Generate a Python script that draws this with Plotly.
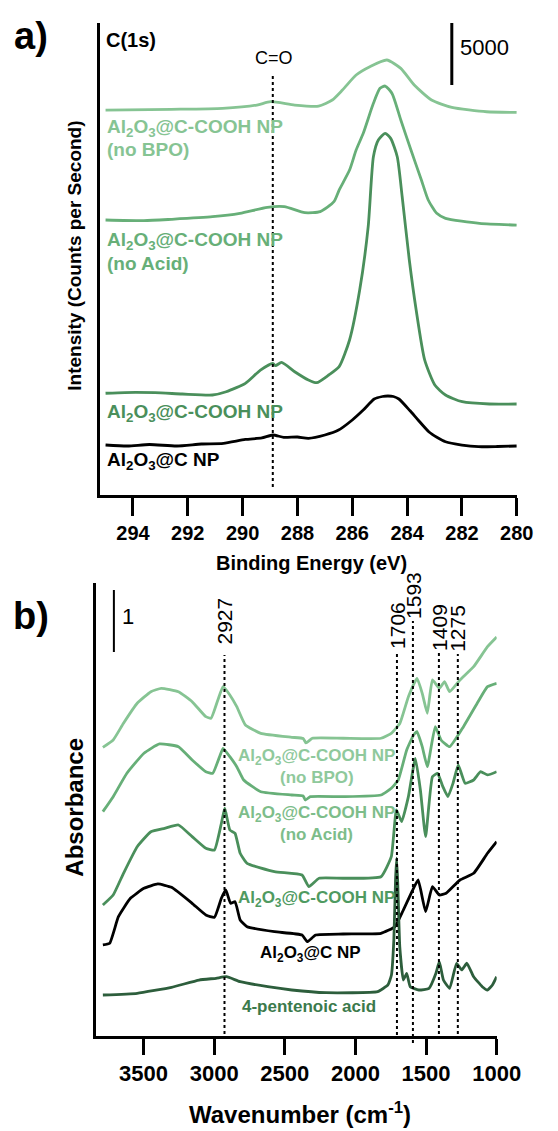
import plotly.graph_objects as go

W, H = 558, 1131

# ---------------- Panel a: XPS C(1s) ----------------
xps_ev_c = [295.0, 294.2, 293.4, 292.4, 291.5, 290.7, 289.9, 289.3, 288.9, 288.5, 288.0, 287.6, 287.0,
            286.5, 286.0, 285.6, 285.2, 284.9, 284.7, 284.5, 284.3, 283.9, 283.6, 283.2, 282.9, 282.6,
            282.0, 281.4, 280.7, 280.0]
xps_cnt_c = [4025, 3945, 4065, 3945, 4105, 4160, 4470, 4590, 4830, 4645, 4670, 4565, 4830,
             5230, 6040, 6840, 7730, 7930, 7970, 7930, 7730, 6800, 6040, 5070, 4630, 4290,
             4025, 3890, 3905, 3945]

xps_ev_cooh = [295.0, 294.3, 293.2, 292.2, 291.1, 290.6, 289.9, 289.35, 288.9, 288.8, 288.58, 288.1, 287.6,
               287.3, 286.86, 286.48, 286.1, 285.73, 285.42, 285.23, 285.05, 284.8, 284.6, 284.36, 284.18,
               283.92, 283.67, 283.36, 282.99, 282.6, 281.99, 281.0, 280.0]
xps_cnt_cooh = [8190, 8250, 8235, 8130, 8050, 8315, 8990, 10060, 10600, 10410, 10680, 9925, 9260,
                9040, 9660, 10330, 12480, 16500, 21600, 27230, 28580, 29120, 28710, 27230, 24010,
                18920, 14890, 10870, 8855, 8050, 7510, 7325, 7325]

xps_ev_noacid = [295.0, 293.6, 292.6, 291.1, 290.1, 289.1, 288.48, 287.73, 287.17, 286.67, 286.48, 286.1,
                 285.86, 285.6, 285.23, 284.99, 284.8, 284.55, 284.23, 283.86, 283.48, 283.23, 282.92,
                 282.6, 281.36, 280.0]
xps_cnt_noacid = [22140, 22085, 22195, 22405, 22675, 23160, 23210, 22725, 22810, 23610, 24550, 26160,
                  27770, 29120, 31530, 32740, 32925, 32330, 30190, 27770, 25360, 23750, 22675,
                  22275, 21870, 21735]

xps_ev_nobpo = [295.0, 292.6, 290.73, 289.48, 288.98, 288.1, 287.23, 286.73, 286.36, 285.86, 285.36,
                284.74, 284.23, 283.74, 283.11, 282.37, 281.1, 280.0]
xps_cnt_nobpo = [30990, 31050, 31130, 31395, 31665, 31395, 31315, 31800, 32600, 33810, 34480,
                 35020, 34345, 33005, 31800, 31210, 30855, 30805]

xps_ticks = [294, 292, 290, 288, 286, 284, 282, 280]
co_line_ev = 288.9
xps_scale_counts = 5000

# ---------------- Panel b: FTIR ----------------
ir_wn_nobpo = [3788, 3715, 3642, 3545, 3448, 3375, 3253, 3156, 3059, 3022, 2974, 2937, 2889, 2840, 2779,
               2670, 2451, 2370, 2350, 2305, 2087, 1819, 1746, 1685, 1625, 1564, 1527, 1491, 1455, 1406,
               1369, 1333, 1260, 1163, 1065, 1000]
ir_abs_nobpo = [4.656, 4.774, 5.044, 5.366, 5.553, 5.608, 5.553, 5.392, 5.150, 5.124, 5.419, 5.634, 5.500,
                5.311, 5.016, 4.882, 4.818, 4.798, 4.726, 4.802, 4.802, 4.802, 4.882, 5.044, 5.473, 5.769,
                5.527, 5.205, 5.742, 5.608, 5.715, 5.553, 5.742, 5.956, 6.279, 6.435]

ir_wn_noacid = [3788, 3715, 3618, 3497, 3387, 3253, 3156, 3059, 3010, 2962, 2937, 2889, 2840, 2791, 2670,
                2451, 2370, 2354, 2320, 2087, 1819, 1746, 1697, 1637, 1588, 1564, 1527, 1491, 1435, 1394,
                1333, 1235, 1138, 1065, 1000]
ir_abs_noacid = [3.618, 3.860, 4.237, 4.560, 4.710, 4.666, 4.452, 4.263, 4.237, 4.505, 4.640, 4.505, 4.344,
                 4.129, 3.940, 3.887, 3.871, 3.806, 3.860, 3.860, 3.887, 3.995, 4.129, 4.613, 4.855, 4.908,
                 4.666, 4.344, 4.989, 4.774, 4.666, 4.989, 5.366, 5.634, 5.689]

ir_wn_cooh = [3788, 3715, 3642, 3545, 3448, 3351, 3253, 3156, 3059, 2998, 2949, 2925, 2889, 2852, 2816,
              2767, 2573, 2378, 2330, 2257, 2087, 1819, 1746, 1710, 1673, 1625, 1576, 1540, 1503, 1455,
              1418, 1381, 1345, 1309, 1272, 1223, 1163, 1114, 1065, 1000]
ir_abs_cooh = [2.113, 2.274, 2.624, 3.053, 3.295, 3.350, 3.403, 3.215, 3.027, 3.000, 3.431, 3.673, 3.323,
               3.269, 2.947, 2.785, 2.650, 2.597, 2.408, 2.544, 2.544, 2.569, 2.892, 3.645, 3.456, 3.860,
               4.479, 3.968, 3.215, 4.182, 4.237, 4.021, 3.860, 4.076, 4.371, 4.076, 4.129, 4.263, 4.210,
               4.263]

ir_wn_c = [3788, 3740, 3678, 3593, 3497, 3399, 3302, 3156, 3059, 2998, 2949, 2918, 2884, 2852, 2816, 2767,
           2573, 2378, 2341, 2281, 2087, 1819, 1721, 1661, 1600, 1556, 1503, 1455, 1406, 1358, 1260, 1163,
           1065, 1000]
ir_abs_c = [1.468, 1.495, 1.924, 2.221, 2.382, 2.452, 2.398, 2.140, 1.952, 1.915, 2.221, 2.355, 2.140, 2.166,
            1.871, 1.763, 1.682, 1.629, 1.521, 1.629, 1.645, 1.656, 1.763, 2.032, 2.327, 2.516, 2.005, 2.408,
            2.274, 2.302, 2.516, 2.624, 2.947, 3.134]

ir_wn_pent = [3788, 3545, 3302, 3107, 2986, 2913, 2816, 2621, 2451, 2208, 1843, 1770, 1745, 1728, 1716, 1708,
              1700, 1686, 1661, 1637, 1612, 1551, 1479, 1430, 1406, 1377, 1333, 1284, 1248, 1211, 1163, 1102,
              1065, 1030, 1000]
ir_abs_pent = [0.661, 0.689, 0.785, 0.903, 0.931, 0.956, 0.876, 0.795, 0.742, 0.698, 0.715, 0.823, 0.984,
               1.55, 2.52, 2.87, 2.44, 1.44, 0.903, 1.011, 0.795, 0.742, 0.769, 1.011, 1.198, 0.903, 0.769,
               1.173, 1.065, 1.173, 0.956, 0.795, 0.742, 0.823, 0.956]

ir_ticks = [3500, 3000, 2500, 2000, 1500, 1000]
ir_peaks = [2927, 1706, 1593, 1409, 1275]
ir_scale_abs = 1

# ---------------- colours ----------------
C_NOBPO = "#86c493"
C_NOACID = "#67af78"
C_COOH = "#4a8f5b"
C_PENT = "#2d5e3c"

FONT = "Liberation Sans"


def px(x):
    return x / W


def py(y):
    return 1 - y / H


fig = go.Figure()

LW = 2.8
for xs, ys, col in [(xps_ev_nobpo, xps_cnt_nobpo, C_NOBPO), (xps_ev_noacid, xps_cnt_noacid, C_NOACID),
                    (xps_ev_cooh, xps_cnt_cooh, C_COOH), (xps_ev_c, xps_cnt_c, "#000000")]:
    fig.add_trace(go.Scatter(x=xs, y=ys, mode="lines",
                             line=dict(color=col, width=LW, shape="spline", smoothing=0.6),
                             xaxis="x", yaxis="y", showlegend=False, hoverinfo="skip"))

for xs, ys, col in [(ir_wn_nobpo, ir_abs_nobpo, C_NOBPO), (ir_wn_noacid, ir_abs_noacid, C_NOACID),
                    (ir_wn_cooh, ir_abs_cooh, C_COOH), (ir_wn_c, ir_abs_c, "#000000"),
                    (ir_wn_pent, ir_abs_pent, C_PENT)]:
    fig.add_trace(go.Scatter(x=xs, y=ys, mode="lines",
                             line=dict(color=col, width=LW, shape="spline", smoothing=0.4),
                             xaxis="x2", yaxis="y2", showlegend=False, hoverinfo="skip"))

# axis geometry (pixels)
A_L, A_R, A_T, A_B = 104, 540, 23, 495
B_L, B_R, B_T, B_B = 100.7, 519, 583, 1036
A_YMAX = 38000
B_YMAX = 7.306

axis_common = dict(showgrid=False, zeroline=False, showline=True, linecolor="black", linewidth=3)

fig.update_layout(
    width=W, height=H, margin=dict(l=0, r=0, t=0, b=0),
    paper_bgcolor="white", plot_bgcolor="white",
    xaxis=dict(domain=[px(A_L), px(A_R)], range=[295.22, 280], tickvals=xps_ticks,
               ticks="outside", ticklen=18, tickwidth=3, tickcolor="black",
               tickfont=dict(family=FONT, size=20, color="black", weight="bold"),
               anchor="y", **axis_common),
    yaxis=dict(domain=[py(A_B), py(A_T)], range=[0, A_YMAX], showticklabels=False, ticks="",
               anchor="x", **axis_common),
    xaxis2=dict(domain=[px(B_L), px(B_R)], range=[3834, 1000], tickvals=ir_ticks,
                ticks="outside", ticklen=16, tickwidth=3, tickcolor="black",
                tickfont=dict(family=FONT, size=22, color="black", weight="bold"),
                anchor="y2", **axis_common),
    yaxis2=dict(domain=[py(B_B), py(B_T)], range=[0, B_YMAX], showticklabels=False, ticks="",
                anchor="x2", **axis_common),
)

shapes = []
# C=O dotted line
shapes.append(dict(type="line", xref="x", yref="paper", x0=co_line_ev, x1=co_line_ev,
                   y0=py(487), y1=py(75), line=dict(color="black", width=2, dash="dot")))
# 5000 scale bar
shapes.append(dict(type="line", xref="x", yref="y", x0=282.37, x1=282.37,
                   y0=A_YMAX - xps_scale_counts, y1=A_YMAX, line=dict(color="black", width=3)))
# IR scale bar
shapes.append(dict(type="line", xref="x2", yref="y2", x0=3710, x1=3710,
                   y0=(B_B - 652) / 62, y1=(B_B - 652) / 62 + ir_scale_abs, line=dict(color="black", width=2)))
# IR peak lines
peak_top = {2927: 655, 1706: 652, 1593: 621, 1409: 653, 1275: 654}
peak_bot = {2927: 1034, 1706: 1035, 1593: 1043, 1409: 1034, 1275: 1034}
for p in ir_peaks:
    shapes.append(dict(type="line", xref="x2", yref="paper", x0=p, x1=p, y0=py(peak_bot[p]), y1=py(peak_top[p]),
                       line=dict(color="black", width=2, dash="dot")))
fig.update_layout(shapes=shapes)

ann = []


def A(text, x, y, size, color="black", bold=True, xanchor="center", angle=0, family=FONT):
    ann.append(dict(text=text, x=px(x), y=py(y), xref="paper", yref="paper", showarrow=False,
                    xanchor=xanchor, yanchor="middle", textangle=angle,
                    font=dict(family=family, size=size, color=color, weight="bold" if bold else "normal")))


sub = "Al<sub>2</sub>O<sub>3</sub>"
# panel letters
A("a)", 32, 36, 38)
A("b)", 32, 616, 38)
A("C(1s)", 109, 40, 20, xanchor="left")
A("C=O", 286, 58, 18, bold=False)
A(str(xps_scale_counts), 479, 48, 22, bold=False, xanchor="left")
A(str(ir_scale_abs), 125, 616, 22, bold=False, xanchor="left")

# panel a labels
A(sub + "@C-COOH NP", 110, 128, 19, C_NOBPO, xanchor="left")
A("(no BPO)", 110, 149, 19, C_NOBPO, xanchor="left")
A(sub + "@C-COOH NP", 110, 241, 19, C_NOACID, xanchor="left")
A("(no Acid)", 110, 263, 19, C_NOACID, xanchor="left")
A(sub + "@C-COOH NP", 110, 413, 19, C_COOH, xanchor="left")
A(sub + "@C NP", 110, 461, 19, "black", xanchor="left")

# axis titles
A("Intensity (Counts per Second)", 77, 256, 19, angle=-90)
A("Binding Energy (eV)", 326, 563, 20)
A("Absorbance", 77, 807, 24, angle=-90)
A("Wavenumber (cm<sup>-1</sup>)", 313, 1113, 24)

# panel b labels
A(sub + "@C-COOH NP", 331, 757, 17, "#8fc99c")
A("(no BPO)", 331, 777, 17, "#8fc99c")
A(sub + "@C-COOH NP", 331, 814, 17, "#7dbd8a")
A("(no Acid)", 331, 834, 17, "#7dbd8a")
A(sub + "@C-COOH NP", 331, 899, 17, "#4f9a61")
A(sub + "@C NP", 324, 954, 17, "black")
A("4-pentenoic acid", 323, 1006, 17, "#3b7a4c")

# peak labels (rotated)
peak_lbl_y = {2927: 621, 1706: 625, 1593: 595, 1409: 627, 1275: 628}
for p in ir_peaks:
    ann.append(dict(text=str(p), x=p, y=py(peak_lbl_y[p]), xref="x2", yref="paper", showarrow=False,
                    xanchor="center", yanchor="middle", textangle=-90,
                    font=dict(family=FONT, size=21, color="black")))

fig.update_layout(annotations=ann)
fig.write_html("out.html")
